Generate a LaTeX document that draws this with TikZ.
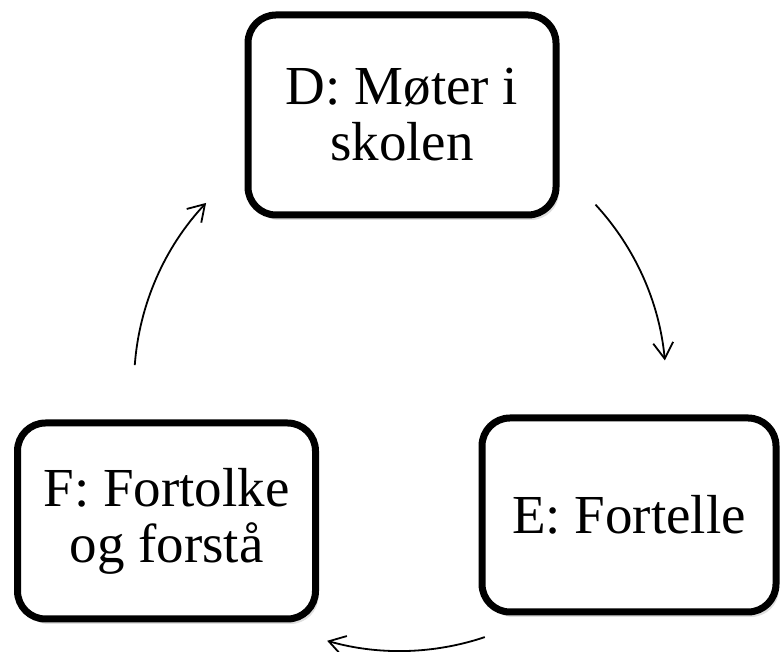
\documentclass[tikz,border=0pt]{standalone}
\usepackage{fontspec}
\setmainfont{Liberation Serif}
\newfontfamily\stagefont{Liberation Serif}
\usetikzlibrary{arrows.meta, shadows}

\begin{document}
\begin{tikzpicture}[x=1pt, y=1pt, >={Straight Barb[length=16pt,width=20pt]},
  stagebox/.style={draw, line width=7pt, rounded corners=28pt, fill=white, align=center, inner sep=0pt,
    minimum width=298pt, minimum height=196pt, font=\stagefont\fontsize{55}{56}\selectfont,
    drop shadow={shadow xshift=3pt, shadow yshift=-5pt, opacity=0.25}},
  cyclearrow/.style={->, line width=1.8pt}]
\def\hubr{266}

\useasboundingbox (0,0) rectangle (782,652);

%Stages
\node (D) at (402,537) [stagebox, minimum width=308pt, minimum height=200pt] {D: Møter i\\skolen};
\node (E) at (629,137) [stagebox, minimum width=294pt, minimum height=194pt] {E: Fortelle};
\node (F) at (166.5,131) [stagebox] {F: Fortolke\\og forstå};

%Cycle
\coordinate (hub) at (400,267);
\coordinate (de) at ([shift={(42.7:\hubr)}]hub);
\coordinate (ef) at ([shift={(-71.4:\hubr)}]hub);
\coordinate (fd) at ([shift={(175.7:\hubr)}]hub);

\draw[cyclearrow] (de) arc [start angle=42.7, end angle=5.3, radius=\hubr];
\draw[cyclearrow] (ef) arc [start angle=-71.4, end angle=-105.9, radius=\hubr];
\draw[cyclearrow] (fd) arc [start angle=175.7, end angle=136.8, radius=\hubr];
\end{tikzpicture}
\end{document}
